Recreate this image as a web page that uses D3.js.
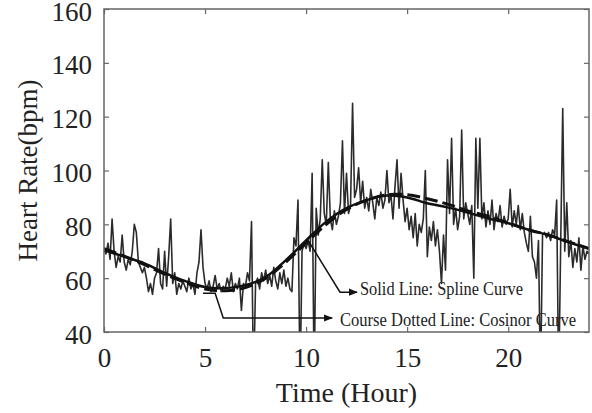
<!DOCTYPE html>
<meta charset="utf-8">
<script src="https://d3js.org/d3.v7.min.js"></script>
<style>
body { margin: 0; background: #fff; }
text { font-family: "Liberation Serif", "Times New Roman", serif; fill: #222; }
</style>
<div id="chart"></div>
<script>

// heart rate samples, one every 0.1 h from 0 to 24
var heartRate = [
  71, 69, 73, 67, 82, 70, 64, 68, 66, 76,
  66, 63, 67, 65, 70, 80, 77, 66, 64, 62,
  64, 60, 55, 58, 54, 60, 62, 71, 58, 56,
  70, 57, 68, 82, 58, 62, 54, 58, 56, 59,
  57, 55, 60, 56, 58, 54, 62, 66, 78, 64,
  58, 56, 59, 55, 57, 61, 56, 58, 55, 57,
  56, 60, 57, 62, 55, 58, 56, 60, 48, 58,
  57, 62, 59, 81, 20, 58, 60, 56, 62, 59,
  63, 58, 61, 57, 64, 59, 56, 62, 58, 63,
  57, 60, 56, 55, 75, 72, 89, 20, 70, 73,
  71, 74, 70, 99, 20, 86, 76, 82, 104, 84,
  80, 103, 82, 78, 85, 80, 83, 88, 111, 84,
  99, 84, 87, 125, 90, 93, 101, 88, 96, 86,
  90, 85, 93, 88, 82, 90, 87, 92, 86, 89,
  100, 88, 91, 82, 94, 104, 86, 99, 89, 81,
  86, 78, 83, 75, 84, 72, 80, 77, 82, 100,
  68, 79, 74, 81, 72, 78, 70, 58, 76, 63,
  104, 84, 112, 80, 86, 78, 83, 115, 82, 88,
  84, 80, 87, 60, 112, 86, 112, 82, 88, 79,
  85, 80, 89, 78, 84, 81, 87, 79, 83, 80,
  82, 93, 79, 85, 80, 87, 78, 84, 77, 73,
  70, 83, 68, 66, 60, 74, 20, 76, 77, 75,
  77, 74, 78, 76, 89, 20, 73, 123, 70, 88,
  68, 74, 64, 71, 66, 75, 63, 72, 67, 70,
  69
];
var sampleStep = 0.1;

// hourly values of the two fitted curves
var fitHours   = [0, 1, 2, 3, 4, 5, 6, 7, 8, 9, 10, 11, 12, 13, 14, 15, 16, 17, 18, 19, 20, 21, 22, 23, 24];
var splineFit  = [70.4, 68, 65.5, 62, 59, 56.7, 56.3, 57.4, 60.4, 66.7, 74, 81, 86, 89, 90.7, 90, 87.8, 86.3, 84.4, 82.2, 80.4, 78, 76, 73.3, 71];
var cosinorFit = [71, 68.2, 65, 61.5, 58.5, 56, 55.3, 56.5, 60, 66, 73, 80, 85.5, 89, 91, 91, 89.5, 87.5, 85, 83, 80.5, 78, 76, 73.5, 71];

var xTicks = [0, 5, 10, 15, 20];
var yTicks = [40, 60, 80, 100, 120, 140, 160];

// annotation callouts, in data units [hour, bpm]
var splineNote  = { text: "Solid Line: Spline Curve", path: [[10.1, 74], [11.68, 54.8], [12.52, 54.8]], at: [12.67, 53.7], width: 163 };
var cosinorNote = { text: "Course Dotted Line: Cosinor Curve", path: [[4.9, 54.4], [5.5, 54.4], [5.9, 45.2], [11.29, 45.2]], at: [11.68, 42.2], width: 236 };

var margin = {top: 9, right: 3, bottom: 81, left: 104},
    width = 592 - margin.left - margin.right,
    height = 413 - margin.top - margin.bottom;

var svg = d3.select("#chart")
  .append("svg")
    .attr("width", 592)
    .attr("height", 413)
  .append("g")
    .attr("transform", "translate(" + margin.left + "," + margin.top + ")");

var x = d3.scaleLinear().domain([0, 24]).range([0, width]);
var y = d3.scaleLinear().domain([40, 160]).range([height, 0]);

svg.append("defs").append("clipPath").attr("id", "clip")
  .append("rect").attr("width", width).attr("height", height);

svg.append("defs").append("marker")
    .attr("id", "arrow")
    .attr("viewBox", "0 0 10 10")
    .attr("refX", 9).attr("refY", 5)
    .attr("markerWidth", 6).attr("markerHeight", 6)
    .attr("orient", "auto")
  .append("path")
    .attr("d", "M0,1 L10,5 L0,9 Z")
    .attr("fill", "#111");

var plot = svg.append("g").attr("clip-path", "url(#clip)");

// raw trace
var raw = heartRate.map(function(v, i) { return [i * sampleStep, v]; });
plot.append("path")
  .datum(raw)
  .attr("fill", "none")
  .attr("stroke", "#2b2b2b")
  .attr("stroke-width", 1.6)
  .attr("stroke-linejoin", "round")
  .attr("d", d3.line().x(function(d) { return x(d[0]); }).y(function(d) { return y(d[1]); }));

// fitted curves
var fitLine = d3.line()
  .curve(d3.curveCatmullRom)
  .x(function(d) { return x(d[0]); })
  .y(function(d) { return y(d[1]); });

plot.append("path")
  .datum(fitHours.map(function(h, i) { return [h, cosinorFit[i]]; }))
  .attr("fill", "none")
  .attr("stroke", "#111")
  .attr("stroke-width", 3)
  .attr("stroke-dasharray", "13,5")
  .attr("d", fitLine);

plot.append("path")
  .datum(fitHours.map(function(h, i) { return [h, splineFit[i]]; }))
  .attr("fill", "none")
  .attr("stroke", "#111")
  .attr("stroke-width", 2.5)
  .attr("d", fitLine);

// frame and inward ticks on all sides
svg.append("rect")
  .attr("width", width).attr("height", height)
  .attr("fill", "none").attr("stroke", "#666").attr("stroke-width", 1.5);

svg.append("g")
  .attr("transform", "translate(0," + height + ")")
  .call(d3.axisBottom(x).tickValues(xTicks).tickSizeInner(-5).tickSizeOuter(0).tickPadding(16))
  .call(function(g) { g.select(".domain").remove(); });
svg.append("g")
  .call(d3.axisTop(x).tickValues(xTicks).tickSizeInner(-5).tickSizeOuter(0).tickFormat(""))
  .call(function(g) { g.select(".domain").remove(); });
svg.append("g")
  .attr("class", "yleft")
  .call(d3.axisLeft(y).tickValues(yTicks).tickSizeInner(-5).tickSizeOuter(0).tickPadding(12))
  .call(function(g) { g.select(".domain").remove(); });
svg.append("g")
  .attr("transform", "translate(" + width + ",0)")
  .call(d3.axisRight(y).tickValues(yTicks).tickSizeInner(-5).tickSizeOuter(0).tickFormat(""))
  .call(function(g) { g.select(".domain").remove(); });

svg.selectAll(".tick line").attr("stroke", "#666").attr("stroke-width", 1.2);
svg.selectAll(".tick text")
  .style("font-family", "Liberation Serif, serif")
  .style("font-size", "27px")
  .attr("fill", "#222");
svg.selectAll(".yleft .tick text").attr("dy", "0.41em");

// axis titles
svg.append("text")
  .attr("x", width / 2)
  .attr("y", height + 70)
  .attr("text-anchor", "middle")
  .style("font-size", "28px")
  .text("Time (Hour)");

svg.append("text")
  .attr("transform", "translate(" + (-67) + "," + (height / 2) + ") rotate(-90)")
  .attr("text-anchor", "middle")
  .style("font-size", "27px")
  .text("Heart Rate(bpm)");

// callouts
[splineNote, cosinorNote].forEach(function(n) {
  svg.append("path")
    .datum(n.path)
    .attr("fill", "none")
    .attr("stroke", "#111")
    .attr("stroke-width", 1.5)
    .attr("marker-end", "url(#arrow)")
    .attr("d", d3.line().x(function(d) { return x(d[0]); }).y(function(d) { return y(d[1]); }));
  svg.append("text")
    .attr("x", x(n.at[0]))
    .attr("y", y(n.at[1]))
    .attr("textLength", n.width)
    .attr("lengthAdjust", "spacingAndGlyphs")
    .style("font-size", "19px")
    .text(n.text);
});

</script>
